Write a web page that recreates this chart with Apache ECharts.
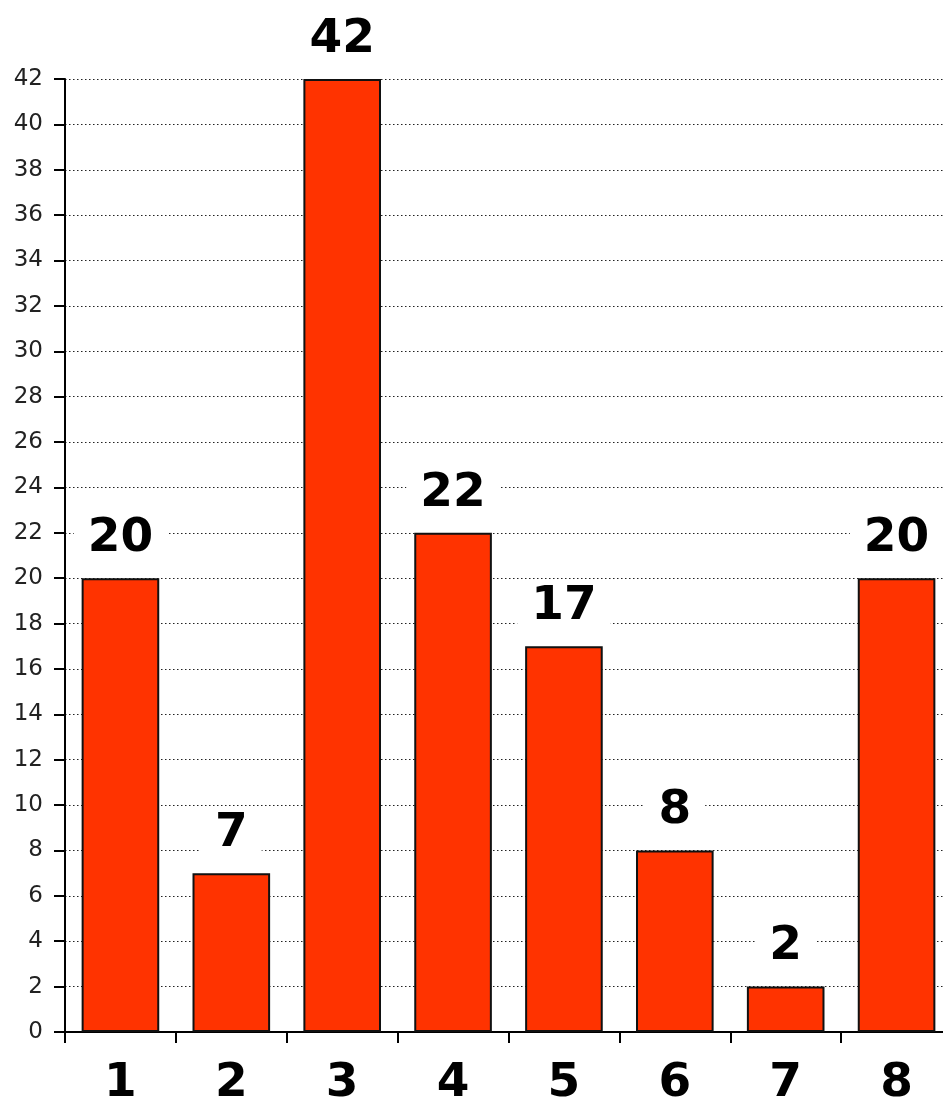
<!DOCTYPE html>
<html>
<head>
<meta charset="utf-8">
<script src="https://cdn.jsdelivr.net/npm/echarts@6/dist/echarts.min.js"></script>
<style>
  html, body { margin: 0; padding: 0; background: #fff; }
  #chart { width: 943px; height: 1101px; }
</style>
</head>
<body>
<div id="chart"></div>
<script>
// Categories along the bottom and the value of each bar
const categories = ['1', '2', '3', '4', '5', '6', '7', '8'];
const values = [20, 7, 42, 22, 17, 8, 2, 20];
// Value axis range and step
const yMin = 0;
const yMax = 42;
const yStep = 2;

const chart = echarts.init(document.getElementById('chart'), null, { renderer: 'canvas' });

chart.setOption({
  backgroundColor: '#ffffff',
  animation: false,
  // the plot runs a little past the right edge of the canvas
  grid: {
    left: 65, top: 79, width: 887, height: 953,
    containLabel: false,
    outerBoundsMode: 'none'
  },
  xAxis: {
    type: 'category',
    data: categories,
    boundaryGap: true,
    axisLine: { show: true, lineStyle: { color: '#000', width: 2 } },
    axisTick: { show: true, length: 11, alignWithLabel: false, lineStyle: { color: '#000', width: 2 } },
    axisLabel: {
      margin: 28,
      color: '#000',
      fontFamily: 'DejaVu Sans',
      fontWeight: 'bold',
      fontSize: 47
    },
    splitLine: { show: false }
  },
  yAxis: {
    type: 'value',
    min: yMin,
    max: yMax,
    interval: yStep,
    axisLine: { show: true, lineStyle: { color: '#000', width: 2 } },
    axisTick: { show: true, length: 11, lineStyle: { color: '#000', width: 2 } },
    axisLabel: {
      margin: 22,
      color: '#222',
      fontFamily: 'DejaVu Sans',
      fontSize: 23
    },
    splitLine: {
      show: true,
      lineStyle: { color: '#222', width: 1.2, type: [1.5, 2.5] }
    }
  },
  series: [{
    type: 'bar',
    data: values,
    barCategoryGap: '30%',
    itemStyle: { color: '#ff3300', borderColor: '#111', borderWidth: 2 },
    label: {
      show: true,
      position: 'top',
      distance: 14,
      color: '#000',
      fontFamily: 'DejaVu Sans',
      fontWeight: 'bold',
      fontSize: 47,
      backgroundColor: '#ffffff',
      padding: [4, 14, 2, 14]
    }
  }]
});
</script>
</body>
</html>
